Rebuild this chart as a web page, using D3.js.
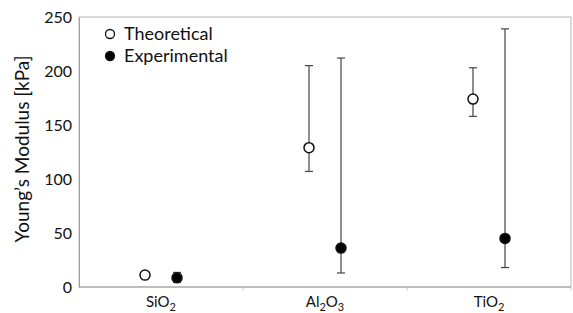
<!DOCTYPE html>
<html>
<head>
<meta charset="utf-8">
<script src="https://cdn.jsdelivr.net/npm/d3@7"></script>
<style>
  body { margin: 0; background: #fff; }
  svg { font-family: Lato, sans-serif; }
</style>
</head>
<body>
<svg id="chart" width="573" height="313"></svg>
<script>
const categories = ["SiO2", "Al2O3", "TiO2"];
const theoretical = [11, 129, 174];
const theoLow = [11, 107, 158];
const theoHigh = [11, 205, 203];
const experimental = [8.5, 36, 45];
const expLow = [4.5, 13, 18];
const expHigh = [13.5, 212, 239];
const yTicks = [0, 50, 100, 150, 200, 250];

const width = 573;
const height = 313;
const margin = { top: 17, right: 2, bottom: 26, left: 79 };

const svg = d3.select("#chart");

const x = d3.scaleBand()
  .domain(categories)
  .range([margin.left, width - margin.right]);

const y = d3.scaleLinear()
  .domain([0, 250])
  .range([height - margin.bottom, margin.top]);

// plot frame
svg.append("rect")
  .attr("x", margin.left)
  .attr("y", margin.top)
  .attr("width", width - margin.right - margin.left)
  .attr("height", height - margin.bottom - margin.top)
  .attr("fill", "none")
  .attr("stroke", "#b5b5b5")
  .attr("stroke-width", 1);

// y axis labels
svg.append("g")
  .attr("transform", `translate(${margin.left}, 0)`)
  .call(d3.axisLeft(y).tickValues(yTicks).tickSize(0).tickPadding(7))
  .call(g => g.select(".domain").attr("stroke", "#a0a0a0"))
  .call(g => g.selectAll("text").attr("font-size", 16).attr("fill", "#111")
    .attr("font-family", "Lato, sans-serif"));

// x axis
const xAxis = svg.append("g")
  .attr("transform", `translate(0, ${height - margin.bottom})`);
xAxis.append("line")
  .attr("x1", margin.left).attr("x2", width - margin.right)
  .attr("stroke", "#a0a0a0");
xAxis.selectAll(".sep")
  .data(categories)
  .enter().append("line")
  .attr("x1", d => x(d) + x.bandwidth())
  .attr("x2", d => x(d) + x.bandwidth())
  .attr("y1", 0).attr("y2", 4)
  .attr("stroke", "#c8c8c8");

const labelParts = {
  "SiO2": [["SiO", false], ["2", true]],
  "Al2O3": [["Al", false], ["2", true], ["O", false], ["3", true]],
  "TiO2": [["TiO", false], ["2", true]]
};
categories.forEach(c => {
  const t = xAxis.append("text")
    .attr("x", x(c) + x.bandwidth() / 2)
    .attr("y", 20)
    .attr("text-anchor", "middle")
    .attr("font-size", 15)
    .attr("fill", "#111");
  labelParts[c].forEach(([s, sub], i) => {
    t.append("tspan")
      .attr("font-size", sub ? 11 : 15)
      .attr("dy", sub ? 4 : (i > 0 ? -4 : 0))
      .text(s);
  });
});

// y title
svg.append("text")
  .attr("transform", `translate(29, 149) rotate(-90)`)
  .attr("text-anchor", "middle")
  .attr("font-size", 19)
  .attr("fill", "#111")
  .text("Young\u2019s Modulus [kPa]");

const off = 16;
const cap = 4;

function drawSeries(vals, lo, hi, dx, fill) {
  const g = svg.append("g");
  vals.forEach((v, i) => {
    const cx = x(categories[i]) + x.bandwidth() / 2 + dx;
    if (hi[i] !== lo[i]) {
      g.append("line")
        .attr("x1", cx).attr("x2", cx)
        .attr("y1", y(lo[i])).attr("y2", y(hi[i]))
        .attr("stroke", "#444").attr("stroke-width", 1.2);
      [lo[i], hi[i]].forEach(e => {
        g.append("line")
          .attr("x1", cx - cap).attr("x2", cx + cap)
          .attr("y1", y(e)).attr("y2", y(e))
          .attr("stroke", "#444").attr("stroke-width", 1.2);
      });
    }
    g.append("circle")
      .attr("cx", cx).attr("cy", y(v))
      .attr("r", 5)
      .attr("fill", fill)
      .attr("stroke", "#111")
      .attr("stroke-width", 1.5);
  });
}

drawSeries(theoretical, theoLow, theoHigh, -off, "#fff");
drawSeries(experimental, expLow, expHigh, off, "#000");

// legend
const legend = svg.append("g");
[["Theoretical", "#fff"], ["Experimental", "#000"]].forEach(([name, fill], i) => {
  legend.append("circle")
    .attr("cx", 110).attr("cy", 34 + i * 22)
    .attr("r", 4.5)
    .attr("fill", fill).attr("stroke", "#111").attr("stroke-width", 1.3);
  legend.append("text")
    .attr("x", 124).attr("y", 34 + i * 22)
    .attr("dy", "0.36em")
    .attr("font-size", 18)
    .attr("fill", "#111")
    .text(name);
});
</script>
</body>
</html>
